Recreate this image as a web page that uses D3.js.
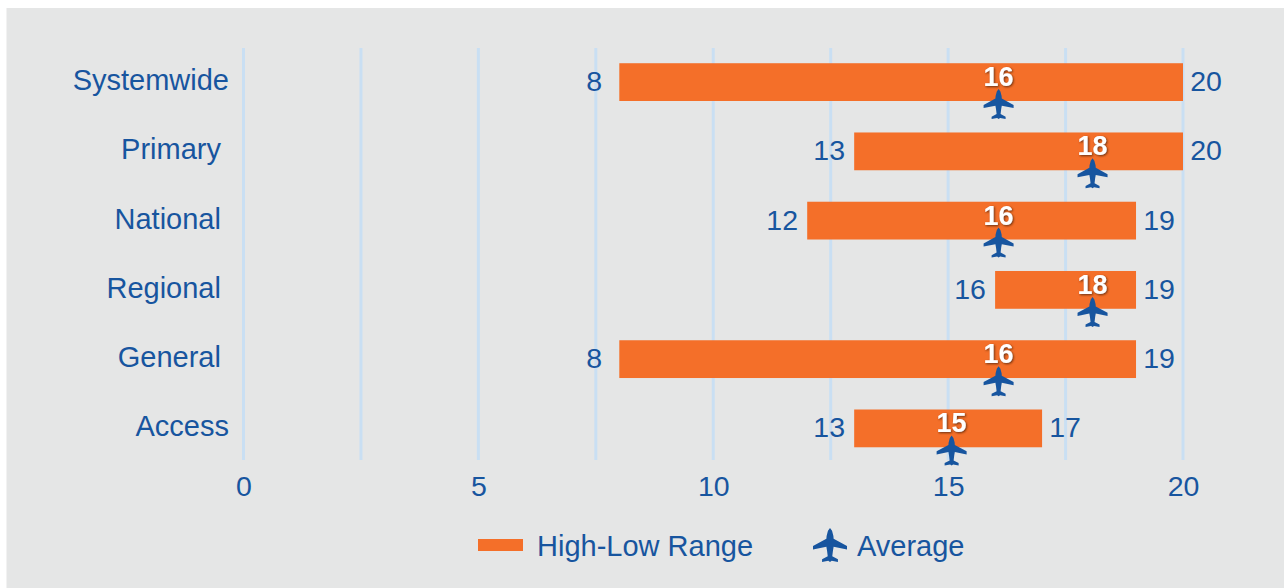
<!DOCTYPE html>
<html>
<head>
<meta charset="utf-8">
<script src="https://cdn.jsdelivr.net/npm/d3@7/dist/d3.min.js"></script>
<style>
html,body{margin:0;padding:0;background:#fff;overflow:hidden}
svg{display:block}
text{font-family:"Liberation Sans",Arial,sans-serif;fill:#17559f}
.cat{white-space:pre}
</style>
</head>
<body>
<svg id="c" width="1284" height="588"></svg>
<script>
const categories = ["Systemwide","Primary ","National ","Regional ","General ","Access"];
const lows = [8,13,12,16,8,13];
const highs = [20,20,19,19,19,17];
const averages = [16,18,16,18,16,15];
const xTicks = [0,5,10,15,20];
const gridTicks = [0,2.5,5,7.5,10,12.5,15,17.5,20];
const legendLabels = ["High-Low Range","Average"];

const BLUE="#17559f", ORANGE="#f46f29";
const svg=d3.select("#c");
const defs=svg.append("defs");
defs.append("filter").attr("id","sh").attr("x","-30%").attr("y","-30%").attr("width","160%").attr("height","160%")
  .append("feDropShadow").attr("dx",1).attr("dy",1).attr("stdDeviation",1.1).attr("flood-color","#5a2a10").attr("flood-opacity",0.9);

svg.append("rect").attr("x",6.5).attr("y",8).attr("width",1278).attr("height",580).attr("fill","#e5e6e6");

const x=d3.scaleLinear().domain([0,20]).range([243.5,1183]);
const y=d3.scaleBand().domain(categories).range([47.5,463]).paddingInner(0.4545).paddingOuter(0.227);

const plane={draw(ctx,size){
  const s=Math.sqrt(size)/30;
  const pts=[[0,-15],[1.8,-12.5],[3,-8],[3.2,-5.5],[15,0.8],[15,4],[3.2,1.6],[2.6,5],[2,10],[7,12.6],[7,15],[1.5,14],[0,15],[-1.5,14],[-7,15],[-7,12.6],[-2,10],[-2.6,5],[-3.2,1.6],[-15,4],[-15,0.8],[-3.2,-5.5],[-3,-8],[-1.8,-12.5]];
  pts.forEach((p,i)=>{const a=p[0]*s,b=p[1]*s; i?ctx.lineTo(a,b):ctx.moveTo(a,b);});
  ctx.closePath();
}};
const planePath=h=>d3.symbol().type(plane).size(h*h)();

svg.append("g").selectAll("line").data(gridTicks).join("line")
  .attr("x1",d=>x(d)).attr("x2",d=>x(d)).attr("y1",48).attr("y2",460)
  .attr("stroke","#c9dff3").attr("stroke-width",3);

const ax=svg.append("g").attr("transform","translate(0,460)")
  .call(d3.axisBottom(x).tickValues(xTicks).tickSize(0).tickPadding(16));
ax.select(".domain").remove();
ax.attr("font-family",null).attr("font-size",null);
ax.selectAll("text").attr("font-size",28.5).style("fill",BLUE);

const rows=svg.append("g").selectAll("g").data(categories).join("g");
rows.append("text").attr("class","cat").text(d=>d)
  .attr("x",229).attr("y",d=>y(d)+y.bandwidth()/2+8)
  .attr("text-anchor","end").attr("font-size",29);
rows.append("rect")
  .attr("x",(d,i)=>x(lows[i])).attr("width",(d,i)=>x(highs[i])-x(lows[i]))
  .attr("y",d=>y(d)).attr("height",y.bandwidth()).attr("fill",ORANGE);
rows.append("text").text((d,i)=>lows[i])
  .attr("x",(d,i)=>x(lows[i])-25).attr("y",d=>y(d)+y.bandwidth()/2+9)
  .attr("text-anchor","middle").attr("font-size",28.5);
rows.append("text").text((d,i)=>highs[i])
  .attr("x",(d,i)=>x(highs[i])+23).attr("y",d=>y(d)+y.bandwidth()/2+9)
  .attr("text-anchor","middle").attr("font-size",28.5);
rows.append("path").attr("d",planePath(30)).attr("fill",BLUE)
  .attr("transform",(d,i)=>`translate(${x(averages[i])+3.5},${y(d)+y.bandwidth()/2+22})`);
rows.append("text").text((d,i)=>averages[i])
  .attr("x",(d,i)=>x(averages[i])+3.5).attr("y",d=>y(d)+y.bandwidth()/2+4)
  .attr("text-anchor","middle").attr("font-size",27).attr("font-weight","bold")
  .style("fill","#fff").attr("filter","url(#sh)");

svg.append("rect").attr("x",478).attr("y",539).attr("width",45).attr("height",12).attr("fill",ORANGE);
svg.append("text").text(legendLabels[0]).attr("x",537).attr("y",556).attr("font-size",29);
svg.append("path").attr("d",planePath(34)).attr("fill",BLUE).attr("transform","translate(830,545)");
svg.append("text").text(legendLabels[1]).attr("x",857).attr("y",556).attr("font-size",29);
</script>
</body>
</html>
